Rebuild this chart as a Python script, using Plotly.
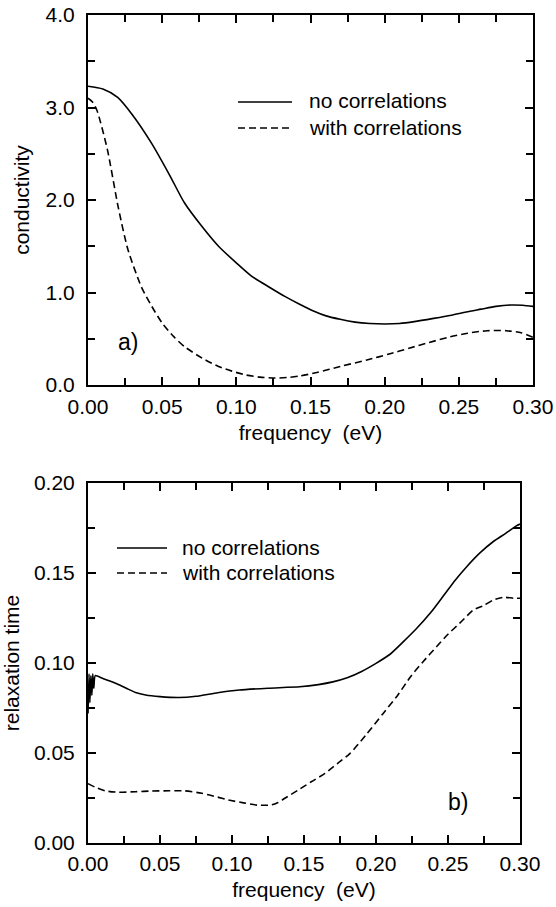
import plotly.graph_objects as go

# ---- panel a) conductivity ----
freq_a_no = [0, 0.01, 0.02, 0.03, 0.043, 0.055, 0.065, 0.077, 0.088, 0.10, 0.11, 0.122,
             0.133, 0.143, 0.152, 0.16, 0.17, 0.18, 0.19, 0.2, 0.21, 0.22, 0.233, 0.245,
             0.255, 0.265, 0.275, 0.285, 0.293, 0.30]
cond_no = [3.23, 3.20, 3.11, 2.92, 2.61, 2.27, 1.97, 1.71, 1.50, 1.32, 1.18, 1.06,
           0.955, 0.87, 0.80, 0.75, 0.71, 0.68, 0.665, 0.66, 0.665, 0.685, 0.72, 0.755,
           0.79, 0.82, 0.85, 0.865, 0.862, 0.85]

freq_a_with = [0, 0.003, 0.006, 0.013, 0.0204, 0.027, 0.036, 0.043, 0.05, 0.058, 0.065,
               0.077, 0.088, 0.097, 0.106, 0.116, 0.126, 0.135, 0.143, 0.155, 0.17, 0.188,
               0.203, 0.217, 0.23, 0.244, 0.256, 0.269, 0.282, 0.292, 0.30]
cond_with = [3.10, 3.06, 2.97, 2.55, 1.92, 1.46, 1.06, 0.85, 0.67, 0.52, 0.415,
             0.29, 0.20, 0.15, 0.11, 0.085, 0.075, 0.082, 0.098, 0.138, 0.20, 0.27,
             0.335, 0.40, 0.46, 0.52, 0.56, 0.587, 0.587, 0.565, 0.515]

# ---- panel b) relaxation time ----
freq_b_no = [0, 0.0007, 0.0013, 0.002, 0.0027, 0.0033, 0.004, 0.005, 0.01, 0.02, 0.027,
             0.033, 0.04, 0.05, 0.063, 0.075, 0.09, 0.105, 0.125, 0.147, 0.16, 0.17, 0.18,
             0.19, 0.20, 0.21, 0.228, 0.238, 0.247, 0.255, 0.263, 0.272, 0.2815, 0.29,
             0.2977, 0.30]
tau_no = [0.072, 0.094, 0.078, 0.093, 0.082, 0.094, 0.086, 0.093, 0.0915, 0.0885, 0.0858,
          0.0836, 0.0822, 0.0813, 0.0808, 0.0815, 0.0835, 0.085, 0.086, 0.0868, 0.088, 0.0895,
          0.0918, 0.0953, 0.0998, 0.105, 0.119, 0.128, 0.1375, 0.146, 0.1535, 0.161, 0.1675,
          0.172, 0.1763, 0.1772]

freq_b_with = [0, 0.005, 0.012, 0.021, 0.033, 0.044, 0.056, 0.067, 0.079, 0.09, 0.0975,
               0.108, 0.118, 0.1275, 0.132, 0.137, 0.146, 0.155, 0.1646, 0.173, 0.182, 0.193,
               0.205, 0.215, 0.224, 0.233, 0.242, 0.25, 0.258, 0.2676, 0.275, 0.2815,
               0.289, 0.2954, 0.30]
tau_with = [0.033, 0.031, 0.029, 0.0282, 0.0285, 0.0289, 0.029, 0.029, 0.0276, 0.0255, 0.0239,
            0.0223, 0.021, 0.0212, 0.0225, 0.025, 0.0294, 0.034, 0.0387, 0.044, 0.0498, 0.060,
            0.072, 0.082, 0.0924, 0.101, 0.109, 0.116, 0.122, 0.1294, 0.132, 0.135,
            0.1365, 0.136, 0.136]

series_names = ["no correlations", "with correlations"]

FONT = "Liberation Sans, Arial, Helvetica, sans-serif"
FS = 21
W, H = 556, 907
LW = 1.6
DASH = "7px,4px"


def px(rx):
    return rx / W


def py(ry):
    return 1 - ry / H


fig = go.Figure()
fig.add_trace(go.Scatter(x=freq_a_no, y=cond_no, mode="lines", name=series_names[0],
                         line=dict(color="black", width=LW, shape="spline", smoothing=0.7),
                         xaxis="x", yaxis="y", showlegend=False))
fig.add_trace(go.Scatter(x=freq_a_with, y=cond_with, mode="lines", name=series_names[1],
                         line=dict(color="black", width=LW, dash=DASH, shape="spline",
                                   smoothing=0.7),
                         xaxis="x", yaxis="y", showlegend=False))
fig.add_trace(go.Scatter(x=freq_b_no, y=tau_no, mode="lines", name=series_names[0],
                         line=dict(color="black", width=LW, shape="spline", smoothing=0.5),
                         xaxis="x2", yaxis="y2", showlegend=False))
fig.add_trace(go.Scatter(x=freq_b_with, y=tau_with, mode="lines", name=series_names[1],
                         line=dict(color="black", width=LW, dash=DASH, shape="spline",
                                   smoothing=0.7),
                         xaxis="x2", yaxis="y2", showlegend=False))


def axis_common():
    return dict(showline=True, linecolor="black", linewidth=2, mirror="ticks",
                ticks="inside", ticklen=8, tickwidth=1.5, tickcolor="black",
                showgrid=False, zeroline=False, ticklabeloverflow="allow",
                tickfont=dict(family=FONT, size=FS, color="black"))


def minor(dt):
    return dict(ticks="inside", ticklen=7, tickwidth=1.5, tickcolor="black", dtick=dt)


def ttl(t, s):
    return dict(text=t, font=dict(family=FONT, size=FS, color="black"), standoff=s)


xa = axis_common()
xa.update(domain=[px(88), px(533)], range=[0, 0.3], dtick=0.05, tickformat=".2f",
          minor=minor(0.025), title=ttl("frequency  (eV)", 8), anchor="y",
          ticklabelstandoff=2)
ya = axis_common()
ya.update(domain=[py(385), py(15)], range=[0, 4], dtick=1, tickformat=".1f",
          minor=minor(0.5), title=ttl("conductivity", 10), anchor="x",
          ticklabelstandoff=7)
xb = axis_common()
xb.update(domain=[px(88), px(520)], range=[0, 0.3], dtick=0.05, tickformat=".2f",
          minor=minor(0.025), title=ttl("frequency  (eV)", 8), anchor="y2",
          ticklabelstandoff=1)
yb = axis_common()
yb.update(domain=[py(843), py(483)], range=[0, 0.2], dtick=0.05, tickformat=".2f",
          minor=minor(0.025), title=ttl("relaxation time", 22), anchor="x2",
          ticklabelstandoff=7)

# legend keys (drawn in paper space, like the original figure's in-plot legend)
legend_keys = [
    # (x0, x1, y, dash, text_x, label)
    (238, 292, 102, None, 307, series_names[0]),
    (238, 292, 128, DASH, 307, series_names[1]),
    (117, 167, 548, None, 180, series_names[0]),
    (117, 167, 573, DASH, 180, series_names[1]),
]
shapes = []
annotations = []
for x0, x1, yy, dsh, tx, lab in legend_keys:
    ln = dict(color="black", width=LW)
    if dsh:
        ln["dash"] = dsh
    shapes.append(dict(type="line", xref="paper", yref="paper", x0=px(x0), x1=px(x1),
                       y0=py(yy), y1=py(yy), line=ln))
    annotations.append(dict(text=lab, xref="paper", yref="paper", x=px(tx), y=py(yy - 1),
                            xanchor="left", yanchor="middle", showarrow=False,
                            font=dict(family=FONT, size=FS, color="black")))

annotations += [
    dict(text="a)", xref="paper", yref="paper", x=px(116), y=py(342),
         xanchor="left", yanchor="middle", showarrow=False,
         font=dict(family=FONT, size=23, color="black")),
    dict(text="b)", xref="paper", yref="paper", x=px(446), y=py(802),
         xanchor="left", yanchor="middle", showarrow=False,
         font=dict(family=FONT, size=23, color="black")),
]

fig.update_layout(
    width=W, height=H,
    margin=dict(l=0, r=0, t=0, b=0, autoexpand=False),
    paper_bgcolor="white", plot_bgcolor="white",
    font=dict(family=FONT, size=FS, color="black"),
    xaxis=xa, yaxis=ya, xaxis2=xb, yaxis2=yb,
    showlegend=False,
    hovermode=False,
    shapes=shapes,
    annotations=annotations,
)

# the page's default 8px body margin would shift the figure; remove it
fig.write_html("out.html", config={"displayModeBar": False},
               post_script="document.body.style.margin='0';")
